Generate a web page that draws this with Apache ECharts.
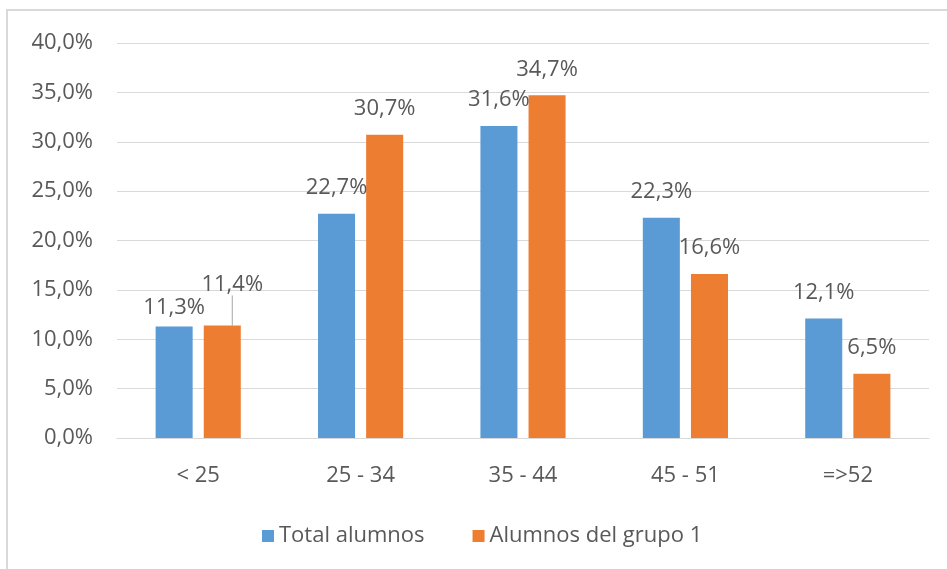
<!DOCTYPE html>
<html>
<head>
<meta charset="utf-8">
<script src="https://cdn.jsdelivr.net/npm/echarts@6/dist/echarts.min.js"></script>
<style>
  html, body { margin: 0; padding: 0; background: #fff; }
  #chart { width: 947px; height: 569px; }
</style>
</head>
<body>
<div id="chart"></div>
<script>
  // rangos de edad
  const categories = ['< 25', '25 - 34', '35 - 44', '45 - 51', '=>52'];
  const totalAlumnos = [11.3, 22.7, 31.6, 22.3, 12.1];
  const grupo1 = [11.4, 30.7, 34.7, 16.6, 6.5];
  const seriesNames = ['Total alumnos', 'Alumnos del grupo 1'];

  const txt = '#595959';
  const font = 'Open Sans';
  const fs = 22;
  const fmt = (v) => v.toFixed(1).replace('.', ',') + '%';

  const chart = echarts.init(document.getElementById('chart'));
  const option = {
    animation: false,
    color: ['#5B9BD5', '#ED7D31'],
    graphic: [
      {
        type: 'rect',
        shape: { x: 7, y: 10, width: 960, height: 580 },
        style: { fill: 'none', stroke: '#d9d9d9', lineWidth: 2 },
      },
    ],
    grid: { left: 117, right: 18, top: 43, bottom: 131 },
    legend: {
      data: seriesNames,
      left: 257,
      top: 520,
      icon: 'rect',
      itemWidth: 12,
      itemHeight: 12,
      itemGap: 48,
      textStyle: { color: txt, fontFamily: font, fontSize: fs },
    },
    xAxis: {
      type: 'category',
      data: categories,
      axisLine: { lineStyle: { color: '#d9d9d9' } },
      axisTick: { show: false },
      axisLabel: { color: txt, fontFamily: font, fontSize: fs, margin: 27 },
    },
    yAxis: {
      type: 'value',
      min: 0,
      max: 40,
      interval: 5,
      axisLine: { show: false },
      axisTick: { show: false },
      splitLine: { lineStyle: { color: '#d9d9d9' } },
      axisLabel: {
        color: txt, fontFamily: font, fontSize: fs, margin: 24,
        formatter: (v) => fmt(v),
      },
    },
    series: [
      {
        name: seriesNames[0],
        type: 'bar',
        barWidth: '22.8%',
        barGap: '30%',
        data: totalAlumnos.map((v, i) =>
          i === 0 ? { value: v, label: { distance: 8 } } : v
        ),
        label: {
          show: true,
          position: 'top',
          distance: 15,
          color: txt,
          fontFamily: font,
          fontSize: fs,
          formatter: (p) => fmt(p.value),
        },
      },
      {
        name: seriesNames[1],
        type: 'bar',
        barWidth: '22.8%',
        data: grupo1.map((v, i) =>
          i === 0
            ? { value: v, labelLine: { show: true, lineStyle: { color: '#a6a6a6', width: 1 } } }
            : v
        ),
        label: {
          show: true,
          position: 'top',
          distance: 15,
          color: txt,
          fontFamily: font,
          fontSize: fs,
          formatter: (p) => fmt(p.value),
        },
        labelLayout: (p) => (p.dataIndex === 0 ? { dx: 10, dy: -15 } : {}),
      },
    ],
  };
  chart.setOption(option);
</script>
</body>
</html>
